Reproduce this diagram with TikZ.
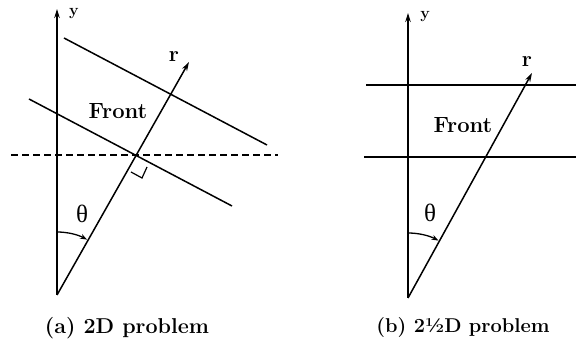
\documentclass[tikz,border=0pt]{standalone}
\usepackage{fontspec}
\newfontfamily\greekfont{Liberation Serif}
\usetikzlibrary{arrows.meta}
\begin{document}
\begin{tikzpicture}[x=1pt,y=1pt,
  ln/.style={line width=1.5pt},
  axis/.style={line width=1.5pt,-{Stealth[length=9pt,width=5.5pt]}},
  anglearc/.style={line width=1.3pt,-{Stealth[length=7pt,width=5pt]}},
  lbl/.style={inner sep=0pt,font=\bfseries\fontsize{22}{25}\selectfont},
  captext/.style={inner sep=0pt,font=\bfseries\fontsize{20}{23}\selectfont},
  smalltext/.style={inner sep=0pt,font=\bfseries\fontsize{16}{18}\selectfont},
  thetatext/.style={inner sep=0pt,font=\greekfont\fontsize{25}{27}\selectfont}]
\useasboundingbox (0,0) rectangle (576,-347);
% ---------- (a) ----------
\coordinate (Oa) at (57,-295);
\coordinate (Ya) at (57,-9);
\coordinate (Ra) at (189,-62);
\coordinate (U1) at (64,-38);
\coordinate (U2) at (267,-145);
\coordinate (L1) at (29,-99);
\coordinate (L2) at (232,-206);
\coordinate (D1) at (11,-155);
\coordinate (D2) at (278,-155);
\coordinate (M1) at (131,-172);
\coordinate (M2) at (142,-178);
\coordinate (M3) at (147,-167);
\draw[axis] (Oa) -- (Ya);
\draw[axis] (Oa) -- (Ra);
\draw[ln] (U1) -- (U2);
\draw[ln] (L1) -- (L2);
\draw[line width=1.2pt,dash pattern=on 7pt off 4pt] (D1) -- (D2);
\draw[line width=1.2pt] (M1) -- (M2) -- (M3);
\draw[anglearc] (57,-232) arc[start angle=90,end angle=61.5,radius=63];
\node[smalltext] (ya) at (74,-14) {y};
\node[lbl] (ra) at (174,-57) {r};
\node[lbl] (fa) at (118,-111) {Front};
\node[thetatext] (tha) at (82,-214) {θ};
\node[captext,font=\bfseries\fontsize{21.5}{24}\selectfont] (ca) at (127,-328) {(a) 2D problem};
% ---------- (b) ----------
\coordinate (Ob) at (408,-298);
\coordinate (Yb) at (408,-13);
\coordinate (Rb) at (532,-73);
\coordinate (H1) at (366,-85);
\coordinate (H2) at (576,-85);
\coordinate (G1) at (364,-157);
\coordinate (G2) at (576,-157);
\draw[axis] (Ob) -- (Yb);
\draw[axis] (Ob) -- (Rb);
\draw[ln] (H1) -- (H2);
\draw[ln] (G1) -- (G2);
\draw[anglearc] (408,-233) arc[start angle=90,end angle=62,radius=65];
\node[smalltext] (yb) at (425,-17) {y};
\node[lbl] (rb) at (527,-62) {r};
\node[lbl] (fb) at (463,-125) {Front};
\node[thetatext] (thb) at (430,-213) {θ};
\node[captext] (cb) at (463,-328) {(b) 2½D problem};
\end{tikzpicture}
\end{document}
